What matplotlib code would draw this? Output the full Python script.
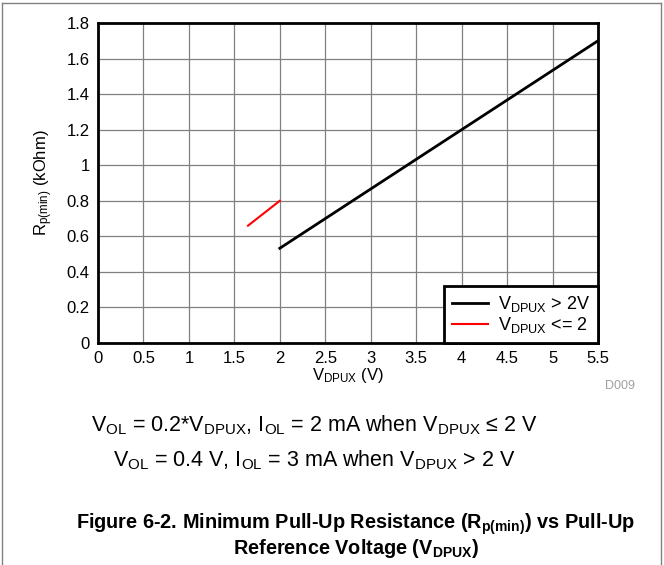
import matplotlib.pyplot as plt
from matplotlib.lines import Line2D

plt.rcParams['font.family'] = ['Liberation Sans', 'DejaVu Sans']
plt.rcParams['mathtext.fontset'] = 'custom'
plt.rcParams['mathtext.rm'] = 'Liberation Sans'
plt.rcParams['mathtext.it'] = 'Liberation Sans'
plt.rcParams['mathtext.bf'] = 'Liberation Sans:bold'

# data
v_high = [2.0, 5.5]
r_high = [0.533, 1.70]
v_low = [1.65, 2.0]
r_low = [0.66, 0.80]
xticks = [0, 0.5, 1, 1.5, 2, 2.5, 3, 3.5, 4, 4.5, 5, 5.5]
xticklabels = ['0', '0.5', '1', '1.5', '2', '2.5', '3', '3.5', '4', '4.5', '5', '5.5']
yticks = [0, 0.2, 0.4, 0.6, 0.8, 1.0, 1.2, 1.4, 1.6, 1.8]
yticklabels = ['0', '0.2', '0.4', '0.6', '0.8', '1', '1.2', '1.4', '1.6', '1.8']

fig = plt.figure(figsize=(6.64, 5.65), dpi=100)
ax = fig.add_axes([0.1476, 0.3929, 0.753, 0.5664])

ax.plot(v_high, r_high, color='black', lw=2, label=r'V$_{\mathrm{DPUX}}$ > 2V')
ax.plot(v_low, r_low, color='red', lw=1.5, label=r'V$_{\mathrm{DPUX}}$ <= 2')

ax.set_xlim(0, 5.5)
ax.set_ylim(0, 1.8)
ax.set_xticks(xticks)
ax.set_xticklabels(xticklabels)
ax.set_yticks(yticks)
ax.set_yticklabels(yticklabels)
ax.tick_params(length=0, labelsize=12, pad=6)
ax.grid(True, color='#808080', lw=0.9)
for s in ax.spines.values():
    s.set_linewidth(2)

ax.set_xlabel(r'V$_{\mathrm{DPUX}}$ (V)', fontsize=12, labelpad=0)
ax.set_ylabel(r'R$_{\mathrm{p(min)}}$ (kOhm)', fontsize=12, labelpad=8)

leg = ax.legend(loc='lower right', fontsize=13, frameon=True, fancybox=False,
                borderaxespad=0, handlelength=2.0, borderpad=0.45, labelspacing=0.05,
                handletextpad=0.55)
leg.get_frame().set_edgecolor('black')
leg.get_frame().set_linewidth(2)
leg.get_frame().set_alpha(1)

fig.text(0.957, 0.317, 'D009', color='#a0a0a0', fontsize=9, ha='right', va='center')

fig.text(0.473, 0.247, r'V$_{\mathrm{OL}}$ = 0.2*V$_{\mathrm{DPUX}}$, I$_{\mathrm{OL}}$ = 2 mA when V$_{\mathrm{DPUX}}$ ≤ 2 V',
         fontsize=15.5, ha='center', va='center')
fig.text(0.473, 0.185, r'V$_{\mathrm{OL}}$ = 0.4 V, I$_{\mathrm{OL}}$ = 3 mA when V$_{\mathrm{DPUX}}$ > 2 V',
         fontsize=15.5, ha='center', va='center')

fig.text(0.536, 0.073, r'Figure 6-2. Minimum Pull-Up Resistance (R$_{\mathbf{p(min)}}$) vs Pull-Up',
         fontsize=14.3, fontweight='bold', ha='center', va='center')
fig.text(0.536, 0.029, r'Reference Voltage (V$_{\mathbf{DPUX}}$)',
         fontsize=14.3, fontweight='bold', ha='center', va='center')

# outer frame
for xs, ys in [([0.003, 0.003], [0, 0.995]), ([0.003, 0.995], [0.995, 0.995]), ([0.995, 0.995], [0, 0.995])]:
    fig.add_artist(Line2D(xs, ys, color='#808080', lw=1, transform=fig.transFigure))

fig.savefig('out.png', dpi=100)
